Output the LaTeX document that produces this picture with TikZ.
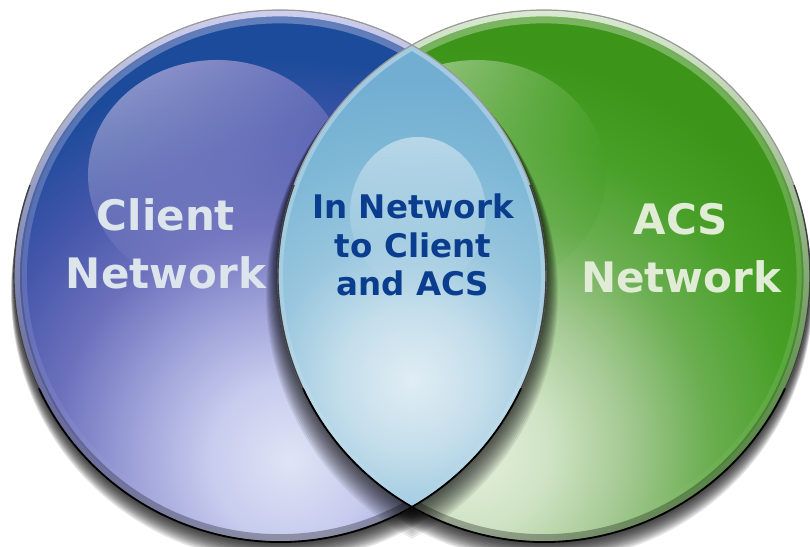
\documentclass[tikz,border=0pt]{standalone}
\usepackage{fontspec}
\setmainfont{DejaVu Sans}
\usetikzlibrary{calc,fadings}

\definecolor{clientlight}{HTML}{DFE4F6}
\definecolor{clientpale}{HTML}{C8CCEE}
\definecolor{clientsoft}{HTML}{9CA0D8}
\definecolor{clientmid}{HTML}{6C70BC}
\definecolor{clientblue}{HTML}{4456AA}
\definecolor{clientdeep}{HTML}{1D4B9B}
\definecolor{clienthl}{HTML}{ACACD8}
\definecolor{clientrim}{HTML}{D0D0EE}
\definecolor{acslight}{HTML}{E6F0DE}
\definecolor{acspale}{HTML}{CFE3C4}
\definecolor{acssoft}{HTML}{A2C890}
\definecolor{acsmid}{HTML}{6AAE50}
\definecolor{acsgreen}{HTML}{48A028}
\definecolor{acsdeep}{HTML}{3C9418}
\definecolor{acshl}{HTML}{C4DCB6}
\definecolor{acsrim}{HTML}{DCEAD4}
\definecolor{lenslight}{HTML}{E0EDF4}
\definecolor{lenspale}{HTML}{C4DEEB}
\definecolor{lenssoft}{HTML}{98C6DE}
\definecolor{lensmid}{HTML}{7EB8D6}
\definecolor{lensdeep}{HTML}{72AED2}
\definecolor{lenshl}{HTML}{D2E6F0}
\definecolor{lenstext}{HTML}{0A3D8E}
\definecolor{clienttext}{HTML}{DCE4EC}
\definecolor{acstext}{HTML}{E0ECD6}
\definecolor{outlinegray}{HTML}{9A9A9A}

\pgfdeclareradialshading{clientglow}{\pgfpointorigin}{color(0bp)=(clientlight); color(5bp)=(clientpale); color(10bp)=(clientsoft); color(15bp)=(clientmid); color(20bp)=(clientblue); color(25bp)=(clientdeep); color(50bp)=(clientdeep)}
\pgfdeclareradialshading{acsglow}{\pgfpointorigin}{color(0bp)=(acslight); color(5bp)=(acspale); color(10bp)=(acssoft); color(15bp)=(acsmid); color(20bp)=(acsgreen); color(25bp)=(acsdeep); color(50bp)=(acsdeep)}
\pgfdeclareradialshading{lensglow}{\pgfpointorigin}{color(0bp)=(lenslight); color(6bp)=(lenspale); color(12bp)=(lenssoft); color(19bp)=(lensmid); color(25bp)=(lensdeep); color(50bp)=(lensdeep)}

\tikzfading[name=fadedown, top color=transparent!0, bottom color=transparent!100]
\tikzfading[name=rimfade, top color=transparent!0, middle color=transparent!100, bottom color=transparent!100]
\tikzfading[name=basefade, top color=transparent!100, middle color=transparent!100, bottom color=transparent!0]

\begin{document}
\begin{tikzpicture}[x=1pt,y=1pt,
    netlabel/.style={font=\bfseries\fontsize{42}{58}\selectfont, align=center, inner sep=0pt},
    lenslabel/.style={font=\bfseries\fontsize{32.5}{38.5}\selectfont, align=center, inner sep=0pt, text=lenstext}]
  \useasboundingbox (0,0) rectangle (810,546);
  \coordinate (clientC) at (280,270);
  \coordinate (acsC) at (544,270);

  % shadows under the two circles
  \foreach \k in {1,...,12}{
    \fill[black, opacity=0.1] ($(clientC)+(0,-1.4*\k)$) circle ({266+0.25*\k});
    \fill[black, opacity=0.1] ($(acsC)+(0,-1.4*\k)$) circle ({266+0.25*\k});
  }

  % client circle
  \begin{scope}
    \clip (clientC) circle (266);
    \fill[clientdeep] (clientC) circle (266);
    \shade[shading=clientglow] (290,86) circle (400);
    \shade[left color=clienthl, right color=clientmid, path fading=fadedown, opacity=0.9] (217,371) ellipse (129 and 115);
    \fill[even odd rule, clientrim, path fading=rimfade] (clientC) circle (266) (clientC) circle (260);
    \fill[even odd rule, clientrim, opacity=0.4, path fading=rimfade] (clientC) circle (266) (clientC) circle (253);
    \fill[even odd rule, black, opacity=0.3, path fading=basefade] (clientC) circle (266) (clientC) circle (258);
  \end{scope}

  % acs circle
  \begin{scope}
    \clip (acsC) circle (266);
    \fill[acsdeep] (acsC) circle (266);
    \shade[shading=acsglow] (470,96) circle (400);
    \shade[left color=acshl, right color=acsgreen, path fading=fadedown, opacity=0.9] (477,371) ellipse (129 and 115);
    \fill[even odd rule, acsrim, path fading=rimfade] (acsC) circle (266) (acsC) circle (260);
    \fill[even odd rule, acsrim, opacity=0.4, path fading=rimfade] (acsC) circle (266) (acsC) circle (253);
    \fill[even odd rule, black, opacity=0.3, path fading=basefade] (acsC) circle (266) (acsC) circle (258);
  \end{scope}

  % shadow of the lens
  \foreach \k in {1,...,12}{
    \begin{scope}
      \clip ($(clientC)+(0,-1.5*\k)$) circle ({266+\k});
      \fill[black, opacity=0.08] ($(acsC)+(0,-1.5*\k)$) circle ({266+\k});
    \end{scope}
  }

  % lens
  \begin{scope}
    \clip (clientC) circle (266);
    \clip (acsC) circle (266);
    \fill[lensdeep] (clientC) circle (266);
    \shade[shading=lensglow] (412,166) circle (300);
    \fill[lenshl, opacity=0.7, path fading=fadedown] (418,333) ellipse (68 and 76);
    \draw[white, line width=10, opacity=0.4, path fading=rimfade] (clientC) circle (266) (acsC) circle (266);
  \end{scope}

  % outlines
  \draw[outlinegray, line width=1.2] (clientC) circle (266) (acsC) circle (266);
  \draw[black!75, line width=1.4] ($(clientC)+(160:266)$) arc[start angle=160, end angle=380, radius=266];
  \draw[black!75, line width=1.4] ($(acsC)+(160:266)$) arc[start angle=160, end angle=380, radius=266];
  \draw[black, line width=1.8] ($(clientC)+(205:266)$) arc[start angle=205, end angle=335, radius=266];
  \draw[black, line width=1.8] ($(acsC)+(205:266)$) arc[start angle=205, end angle=335, radius=266];

  \node[netlabel, text=clienttext] (client) at (166,302) {Client\\Network};
  \node[lenslabel] (both) at (413,301) {In Network\\to Client\\and ACS};
  \node[netlabel, text=acstext] (acs) at (681,298) {ACS\\Network};
\end{tikzpicture}
\end{document}
